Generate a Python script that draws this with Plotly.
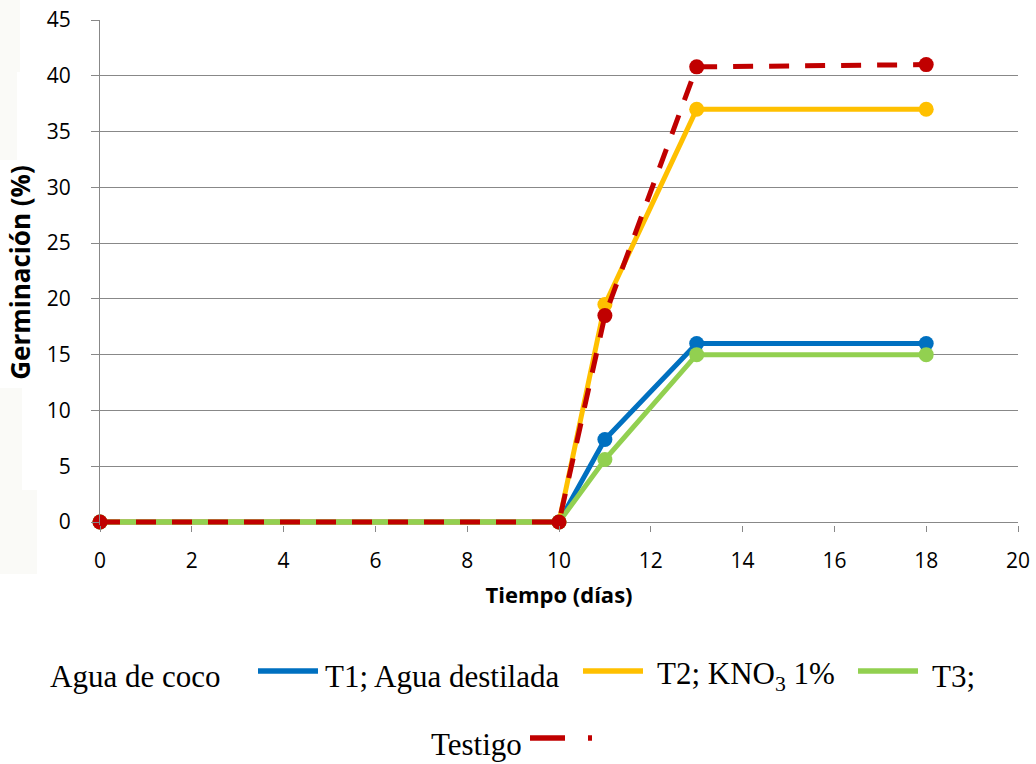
import plotly.graph_objects as go

# Germination over time for each seed treatment
dias = [0, 10, 11, 13, 18]
t1_agua_coco = [0, 0, 7.4, 16, 16]
t2_agua_destilada = [0, 0, 19.5, 37, 37]
t3_kno3 = [0, 0, 5.6, 15, 15]
testigo = [0, 0, 18.5, 40.8, 41]

x_ticks = list(range(0, 21, 2))
y_ticks = list(range(0, 46, 5))

colores = {
    "T1": "#0070C0",
    "T2": "#FFC000",
    "T3": "#92D050",
    "Testigo": "#C00000",
}

W, H = 1036, 764
ML, MR, MT, MB = 100, 18, 20, 239
PW, PH = W - ML - MR, H - MT - MB
# a few pixels of room under zero so the lines along y=0 are not clipped
Y_PAD = 3 * 45 / (PH - 3)


def px(xpix):
    return (xpix - ML) / PW


def py(ypix):
    return (H - MB - ypix) / PH


fig = go.Figure()

series = [
    ("T1", t1_agua_coco, "solid"),
    ("T2", t2_agua_destilada, "solid"),
    ("T3", t3_kno3, "solid"),
    ("Testigo", testigo, "20px,16px"),
]
for nombre, valores, dash in series:
    fig.add_trace(go.Scatter(
        x=dias, y=valores, name=nombre, mode="lines+markers",
        line=dict(color=colores[nombre], width=5, dash=dash),
        marker=dict(color=colores[nombre], size=15),
        cliponaxis=False, showlegend=False,
    ))

grid = "#888888"
tick_font = dict(family="Open Sans", size=21, color="#000000")

fig.update_xaxes(
    range=[0, 20], tickvals=x_ticks, ticktext=[str(v) for v in x_ticks],
    showgrid=False, zeroline=False, showline=False, automargin=False,
    ticks="outside", ticklen=6, tickcolor=grid, tickwidth=1.3,
    tickfont=tick_font, ticklabelstandoff=11,
    title=dict(text="<b>Tiempo (días)</b>",
               font=dict(family="Open Sans", size=22, color="#000000"),
               standoff=14),
)
fig.update_yaxes(
    range=[-Y_PAD, 45], tickvals=y_ticks, ticktext=[str(v) for v in y_ticks],
    showgrid=True, gridcolor=grid, gridwidth=1.3,
    zeroline=True, zerolinecolor=grid, zerolinewidth=1.3,
    showline=True, linecolor=grid, linewidth=1.3, automargin=False,
    ticks="outside", ticklen=8, tickcolor=grid, tickwidth=1.3,
    tickfont=tick_font, ticklabelstandoff=16,
    title=dict(text="<b>Germinación (%)</b>",
               font=dict(family="Open Sans", size=26, color="#000000"),
               standoff=8),
)

# faint off-white strips along the left edge of the page
for x1, y0, y1 in [(20, 0, 72), (17, 72, 160), (22, 388, 490), (37, 490, 574)]:
    fig.add_shape(type="rect", xref="paper", yref="paper", layer="below",
                  x0=px(0), x1=px(x1), y0=py(y1), y1=py(y0),
                  line=dict(width=0), fillcolor="#FAFAF7")

# Legend, laid out as text runs with line samples between them
legend_font = dict(family="Liberation Serif", size=31, color="#000000")
row1, row2 = py(676), py(744)
textos = [
    ("Agua de coco", px(48), row1, "left"),
    ("T1; Agua destilada", px(323), row1, "left"),
    ("T2; KNO<sub>3</sub> 1%", px(655), row1, "left"),
    ("T3;", px(930), row1, "left"),
    ("Testigo", px(524), row2, "right"),
]
for texto, x, y, anchor in textos:
    fig.add_annotation(text=texto, x=x, y=y, xref="paper", yref="paper",
                       xanchor=anchor, yanchor="middle", showarrow=False,
                       font=legend_font)

muestras = [
    ("T1", 258, 318, 671),
    ("T2", 583, 643, 671),
    ("T3", 858, 918, 671),
    ("Testigo", 530, 565, 738),
    ("Testigo", 588, 592, 738),
]
for nombre, x0, x1, y in muestras:
    fig.add_shape(type="line", xref="paper", yref="paper",
                  x0=px(x0), x1=px(x1), y0=py(y), y1=py(y),
                  line=dict(color=colores[nombre], width=5.5))

fig.update_layout(
    width=W, height=H,
    margin=dict(l=ML, r=MR, t=MT, b=MB),
    paper_bgcolor="white", plot_bgcolor="white",
)

fig.write_html("out.html")
